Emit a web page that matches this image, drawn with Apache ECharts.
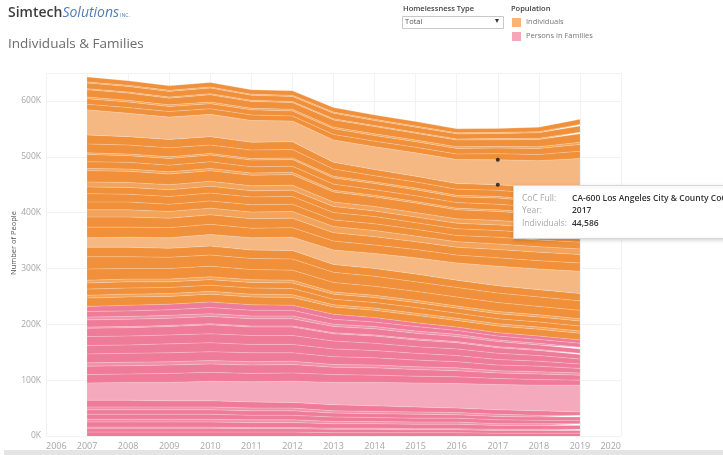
<!DOCTYPE html>
<html>
<head>
<meta charset="utf-8">
<script src="https://cdn.jsdelivr.net/npm/echarts@6/dist/echarts.min.js"></script>
<style>
  html, body { margin: 0; padding: 0; background: #fff; }
  #chart { width: 723px; height: 455px; }
</style>
</head>
<body>
<div id="chart"></div>
<script>
// axis years (2006 and 2020 are empty ends of the axis)
var axisYears = ["2006", "2007", "2008", "2009", "2010", "2011", "2012", "2013", "2014", "2015", "2016", "2017", "2018", "2019", "2020"];
var years = [2007, 2008, 2009, 2010, 2011, 2012, 2013, 2014, 2015, 2016, 2017, 2018, 2019];
var yTicks = [0, 100, 200, 300, 400, 500, 600]; // thousands

// Persons in Families, one array per CoC band (thousands), bottom to top
var fam01a = [7, 7, 7, 7, 7, 7, 6, 6, 6, 6, 5, 5, 5];
var fam01b = [7, 7, 7, 7, 6, 6, 6, 6, 5, 5, 5, 5, 5];
var fam02 = [2, 2, 2, 2, 2, 2, 2, 2, 2, 2, 2, 2, 2];
var fam03 = [9, 9, 9, 9, 9, 9, 8, 8, 8, 8, 7, 7, 7];
var fam04 = [5, 5, 5, 5, 5, 5, 4, 4, 4, 4, 3, 3, 3];
var fam05a = [9, 9, 9, 9, 8, 8, 8, 7, 7, 7, 7, 6, 6];
var fam05b = [8, 8, 8, 8, 8, 8, 7, 7, 7, 6, 6, 6, 6];
var fam06 = [5, 5, 5, 5, 5, 5, 4, 4, 4, 4, 4, 3, 3];
var fam07 = [12, 12, 11, 11, 11, 10, 11, 10, 9, 8, 8, 8, 6];
var fam08 = [31, 32, 33, 35, 36, 38, 40, 42, 43, 44, 45, 46, 48]; // NY-600 New York City
var fam09a = [15, 15, 16, 16, 15, 15, 14, 13, 12, 12, 11, 10, 9];
var fam09b = [15, 15, 15, 15, 15, 15, 13, 13, 12, 11, 10, 10, 9];
var fam10 = [6, 6, 6, 6, 6, 6, 5, 5, 5, 5, 4, 4, 4];
var fam11a = [16, 16, 16, 16, 16, 15, 14, 13, 12, 11, 10, 10, 8];
var fam11b = [15, 15, 16, 16, 15, 15, 14, 13, 12, 11, 10, 9, 8];
var fam11c = [16, 16, 16, 16, 16, 16, 14, 13, 12, 12, 11, 10, 9];
var fam11d = [15, 15, 15, 16, 15, 15, 13, 13, 12, 11, 10, 9, 8];
var fam12 = [2, 2, 2, 2, 2, 2, 2, 2, 2, 2, 2, 2, 2];
var fam13 = [13, 13, 13, 13, 13, 13, 11, 11, 10, 9, 9, 8, 8];
var fam14 = [5, 5, 5, 5, 5, 5, 4, 4, 4, 4, 3, 3, 3];
var fam15a = [10, 10, 10, 11, 10, 10, 9, 8, 8, 7, 7, 7, 7];
var fam15b = [9, 10, 10, 10, 10, 9, 9, 8, 7, 6, 6, 6, 6];

// Individuals, one array per CoC band (thousands), bottom to top
var ind01 = [15, 15, 14, 14, 14, 14, 13, 13, 13, 12, 12, 12, 12];
var ind02 = [5, 5, 5, 5, 5, 5, 4, 4, 4, 4, 4, 4, 4];
var ind03a = [11, 11, 11, 11, 11, 11, 10, 10, 10, 9, 9, 9, 9];
var ind03b = [11, 11, 10, 10, 10, 10, 9, 9, 9, 9, 9, 9, 9];
var ind04 = [5, 5, 5, 5, 5, 5, 4, 4, 4, 4, 4, 4, 4];
var ind05a = [20, 19, 19, 19, 18, 18, 17, 16, 16, 16, 16, 15, 15];
var ind05b = [22, 21, 20, 20, 20, 20, 18, 18, 17, 17, 17, 17, 17];
var ind05c = [17, 17, 16, 16, 15, 15, 14, 14, 14, 13, 13, 13, 13];
var ind06 = [17, 18, 19, 21, 22, 24, 26, 27, 29, 31, 35, 37, 40];
var ind07a = [19, 18, 18, 18, 17, 17, 16, 15, 15, 14, 15, 15, 15];
var ind07b = [18, 18, 17, 17, 17, 17, 15, 15, 14, 14, 15, 15, 15];
var ind08 = [13, 13, 12, 12, 12, 12, 11, 11, 10, 10, 10, 10, 10];
var ind09a = [14, 14, 13, 13, 13, 13, 12, 12, 12, 11, 12, 12, 12];
var ind09b = [15, 14, 14, 14, 14, 14, 13, 13, 12, 12, 12, 12, 13];
var ind09c = [12, 12, 12, 12, 11, 11, 11, 10, 10, 10, 10, 10, 10];
var ind10 = [9, 9, 9, 9, 9, 9, 8, 8, 8, 8, 8, 8, 8];
var ind11 = [20, 20, 19, 19, 19, 19, 18, 17, 17, 16, 16, 16, 16];
var ind12 = [4, 4, 4, 4, 4, 4, 3, 3, 3, 3, 3, 3, 3];
var ind13a = [12, 12, 12, 12, 11, 11, 11, 10, 10, 10, 10, 10, 10];
var ind13b = [13, 12, 12, 12, 12, 12, 11, 11, 11, 10, 11, 10, 10];
var ind14 = [3, 3, 3, 3, 3, 3, 3, 3, 3, 3, 3, 3, 3];
var ind15a = [16, 16, 16, 15, 15, 15, 13, 11, 11, 11, 11, 11, 12];
var ind15b = [16, 15, 15, 15, 14, 14, 12, 11, 10, 10, 10, 11, 12];
var ind16 = [45, 42, 40, 40, 39, 37, 40, 41, 42, 43, 44.586, 48, 53]; // CA-600 Los Angeles
var ind17a = [10, 10, 10, 10, 10, 9, 10, 10, 10, 10, 11, 11, 13];
var ind17b = [10, 10, 9, 9, 9, 9, 10, 10, 10, 10, 10, 11, 12];
var ind18 = [3, 3, 3, 3, 3, 3, 3, 3, 3, 3, 3, 3, 4];
var ind19 = [13, 13, 12, 13, 12, 12, 13, 13, 12, 12, 12, 13, 15];
var ind20 = [2, 2, 2, 2, 2, 2, 2, 2, 2, 2, 2, 2, 3];
var ind21 = [10, 10, 10, 10, 9, 9, 10, 9, 9, 9, 9, 10, 11];
var ind22 = [2, 2, 2, 2, 2, 2, 2, 2, 2, 2, 2, 2, 3];
var ind23 = [9, 8, 8, 8, 8, 8, 8, 8, 8, 7, 7, 8, 9];

var famBands = [fam01a, fam01b, fam02, fam03, fam04, fam05a, fam05b, fam06, fam07, fam08, fam09a, fam09b, fam10,
    fam11a, fam11b, fam11c, fam11d, fam12, fam13, fam14, fam15a, fam15b];
var indBands = [ind01, ind02, ind03a, ind03b, ind04, ind05a, ind05b, ind05c, ind06, ind07a, ind07b, ind08,
    ind09a, ind09b, ind09c, ind10, ind11, ind12, ind13a, ind13b, ind14, ind15a, ind15b,
    ind16, ind17a, ind17b, ind18, ind19, ind20, ind21, ind22, ind23];

// light bands (the rest are drawn in the deep shade)
var famStripes = [fam02, fam04, fam06, fam10, fam12, fam14];
var famLight = [fam08];
var indStripes = [ind02, ind04, ind08, ind10, ind12, ind14, ind18, ind20, ind22];
var indLight = [ind06, ind16];

// tooltip content
var tipYear = 2017;
var tipBand = ind16;
var tipLines = [["CoC Full:", "CA-600 Los Angeles City & County CoC"], ["Year:", "2017"], ["Individuals:", "44,586"]];

var orange = { d: "#f0903a", s: "#f3a45c", l: "#f5b882" };
var pink = { d: "#ee7c98", s: "#f191a9", l: "#f4a9bc" };

function shadeOf(band, stripes, light, pal) {
    if (light.indexOf(band) >= 0) return pal.l;
    if (stripes.indexOf(band) >= 0) return pal.s;
    return pal.d;
}

// values padded with empty ends for the 2006 / 2020 categories
function padded(values) {
    return [null].concat(values, [null]);
}

function bandSeries(values, color, name) {
    return {
        name: name,
        type: "line",
        stack: "total",
        symbol: "none",
        silent: true,
        data: padded(values),
        lineStyle: { width: 0.6, color: "rgba(255,255,255,0.38)" },
        areaStyle: { color: color, opacity: 1 },
        z: 2
    };
}

var series = [];
famBands.forEach(function (b) {
    series.push(bandSeries(b, shadeOf(b, famStripes, famLight, pink), "Persons in Families"));
});
indBands.forEach(function (b) {
    series.push(bandSeries(b, shadeOf(b, indStripes, indLight, orange), "Individuals"));
});

// black dots on the hovered band (top and bottom edge)
var k = years.indexOf(tipYear);
var below = 0;
famBands.forEach(function (b) { below += b[k]; });
for (var t = 0; t < indBands.indexOf(tipBand); t++) below += indBands[t][k];
series.push({
    type: "scatter",
    symbolSize: 4,
    itemStyle: { color: "#111" },
    silent: true,
    z: 5,
    data: [[String(tipYear), below + tipBand[k]], [String(tipYear), below]]
});

// header / legend / tooltip drawn as graphics
var graphic = [
    { type: "text", left: 8, top: 6, style: {
        text: "{a|Simtech}{b|Solutions}{c|INC.}",
        rich: {
            a: { fontFamily: "Open Sans", fontSize: 14, fontWeight: 600, fill: "#3d3d3d" },
            b: { fontFamily: "Open Sans", fontSize: 14, fontStyle: "italic", fill: "#4f7db5" },
            c: { fontFamily: "Open Sans", fontSize: 5, fill: "#4f7db5", padding: [6, 0, 0, 1] }
        } } },
    { type: "text", left: 8, top: 37, style: { text: "Individuals & Families", fontFamily: "Open Sans", fontSize: 13.5, fill: "#6b6b6b" } },
    { type: "text", x: 14, y: 243, rotation: Math.PI / 2,
      style: { text: "Number of People", fontFamily: "Open Sans", fontSize: 7.5, fill: "#555", align: "center", verticalAlign: "middle" } },
    { type: "text", left: 403, top: 5, style: { text: "Homelessness Type", fontFamily: "Open Sans", fontSize: 7.5, fontWeight: 600, fill: "#444" } },
    { type: "rect", shape: { x: 402.5, y: 16.5, width: 101, height: 12 }, style: { fill: "#fff", stroke: "#c8c8c8", lineWidth: 1 } },
    { type: "text", left: 405, top: 18, style: { text: "Total", fontFamily: "Open Sans", fontSize: 7.5, fill: "#555" } },
    { type: "text", left: 495, top: 17, style: { text: "▾", fontSize: 8, fill: "#333" } },
    { type: "text", left: 511, top: 5, style: { text: "Population", fontFamily: "Open Sans", fontSize: 7.5, fontWeight: 600, fill: "#444" } },
    { type: "rect", shape: { x: 512, y: 18, width: 9, height: 9 }, style: { fill: "#f7b476" } },
    { type: "text", left: 526, top: 18, style: { text: "Individuals", fontFamily: "Open Sans", fontSize: 7.5, fill: "#777" } },
    { type: "rect", shape: { x: 512, y: 32, width: 9, height: 9 }, style: { fill: "#f5a6b8" } },
    { type: "text", left: 526, top: 32, style: { text: "Persons in Families", fontFamily: "Open Sans", fontSize: 7.5, fill: "#777" } },
    { type: "rect", shape: { x: 4, y: 450, width: 719, height: 5 }, style: { fill: "#e4e4e4" } },
    { type: "rect", z: 20, shape: { x: 513.5, y: 185.5, width: 230, height: 53 },
      style: { fill: "#fff", stroke: "#d6d6d6", lineWidth: 1, shadowBlur: 4, shadowColor: "rgba(0,0,0,0.15)", shadowOffsetY: 1 } }
];
for (var r = 0; r < tipLines.length; r++) {
    graphic.push({ type: "text", z: 21, left: 522, top: 194 + r * 12.5,
        style: { text: tipLines[r][0], fontFamily: "Open Sans", fontSize: 8.5, fill: "#a8a8a8" } });
    graphic.push({ type: "text", z: 21, left: 572, top: 194 + r * 12.5,
        style: { text: tipLines[r][1], fontFamily: "Open Sans", fontSize: 8.5, fontWeight: 600, fill: "#333" } });
}

var chart = echarts.init(document.getElementById("chart"), null, { renderer: "canvas" });
chart.setOption({
    animation: false,
    backgroundColor: "#fff",
    grid: { left: 46, right: 102, top: 73, bottom: 19, containLabel: false, outerBoundsMode: "none" },
    xAxis: {
        type: "category",
        data: axisYears,
        boundaryGap: false,
        axisLine: { show: false },
        axisTick: { show: false },
        axisLabel: { color: "#a6a6a6", fontSize: 9, fontFamily: "Open Sans", margin: 6, interval: 0,
            alignMinLabel: "left", alignMaxLabel: "right" },
        splitLine: { show: true, interval: 0, lineStyle: { color: "#f2f2f2", width: 1 } }
    },
    yAxis: {
        type: "value",
        min: yTicks[0],
        max: 650,
        interval: 100,
        axisLine: { show: false },
        axisTick: { show: false },
        axisLabel: { color: "#a6a6a6", fontSize: 8.5, fontFamily: "Open Sans", margin: 5, showMaxLabel: false,
            formatter: function (v) { return yTicks.indexOf(v) >= 0 ? v + "K" : ""; } },
        splitLine: { show: true, lineStyle: { color: "#f2f2f2", width: 1 } }
    },
    graphic: graphic,
    series: series
});
</script>
</body>
</html>
